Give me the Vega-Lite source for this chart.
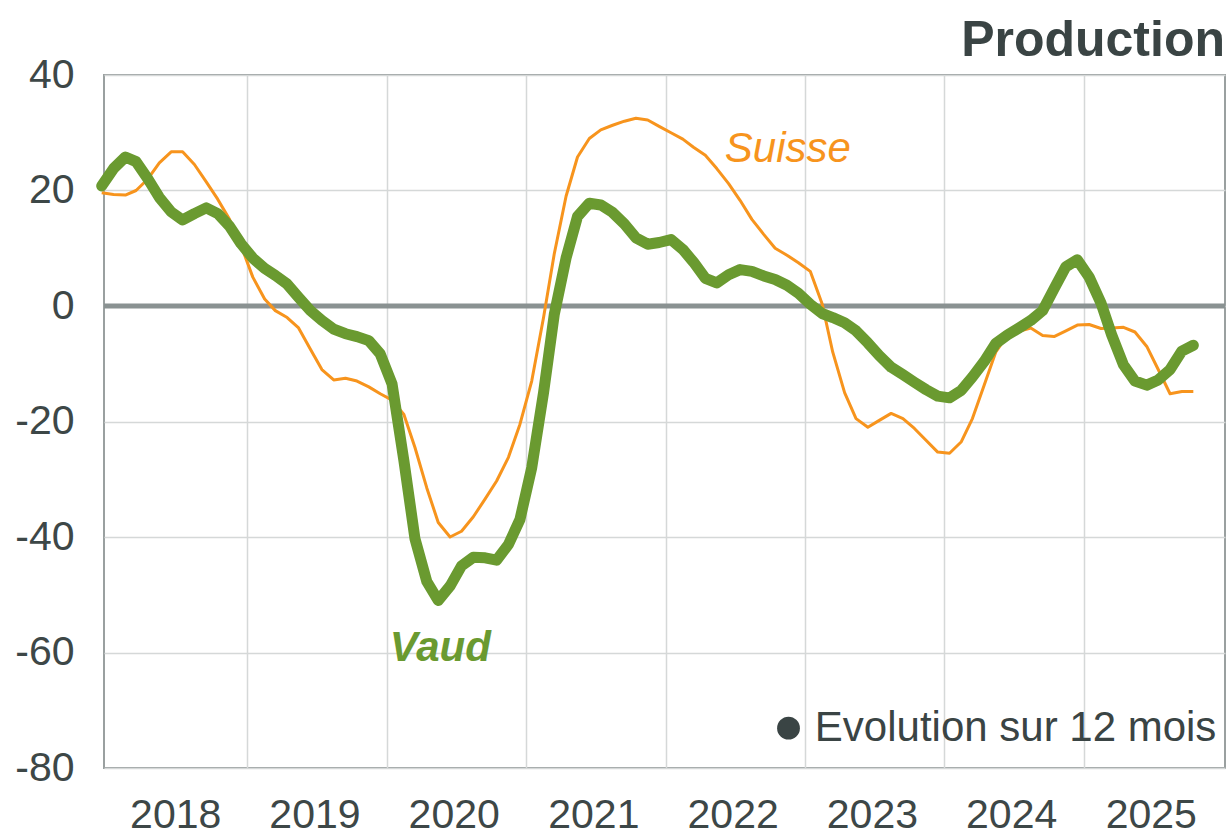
{
  "$schema": "https://vega.github.io/schema/vega-lite/v6.json",
  "autosize": "none",
  "width": 1121,
  "height": 693,
  "padding": {"left": 104, "top": 75, "right": 3, "bottom": 70},
  "background": "white",
  "title": {
    "text": "Production",
    "anchor": "end",
    "frame": "group",
    "font": "Liberation Sans",
    "fontSize": 50,
    "fontWeight": "bold",
    "color": "#3a4444",
    "offset": 0,
    "dy": 12
  },
  "config": {
    "view": {"stroke": "#9aa0a0", "strokeWidth": 2},
    "font": "Liberation Sans, Arial, sans-serif"
  },
  "datasets": {
    "prod": [
      {"date":"2017-12-15","Vaud":20.8,"Suisse":19.6},
      {"date":"2018-01-15","Vaud":23.8,"Suisse":19.3},
      {"date":"2018-02-15","Vaud":25.8,"Suisse":19.2},
      {"date":"2018-03-15","Vaud":25.0,"Suisse":20.0},
      {"date":"2018-04-15","Vaud":22.0,"Suisse":22.0},
      {"date":"2018-05-15","Vaud":18.8,"Suisse":24.8},
      {"date":"2018-06-15","Vaud":16.3,"Suisse":26.7},
      {"date":"2018-07-15","Vaud":14.9,"Suisse":26.7},
      {"date":"2018-08-15","Vaud":16.0,"Suisse":24.5},
      {"date":"2018-09-15","Vaud":17.0,"Suisse":21.5},
      {"date":"2018-10-15","Vaud":16.0,"Suisse":18.5},
      {"date":"2018-11-15","Vaud":13.8,"Suisse":15.0},
      {"date":"2018-12-15","Vaud":10.8,"Suisse":10.5},
      {"date":"2019-01-15","Vaud":8.3,"Suisse":5.0},
      {"date":"2019-02-15","Vaud":6.5,"Suisse":1.2},
      {"date":"2019-03-15","Vaud":5.3,"Suisse":-0.8},
      {"date":"2019-04-15","Vaud":3.8,"Suisse":-2.0},
      {"date":"2019-05-15","Vaud":1.5,"Suisse":-3.8},
      {"date":"2019-06-15","Vaud":-0.8,"Suisse":-7.5},
      {"date":"2019-07-15","Vaud":-2.5,"Suisse":-11.0},
      {"date":"2019-08-15","Vaud":-4.0,"Suisse":-12.8},
      {"date":"2019-09-15","Vaud":-4.8,"Suisse":-12.5},
      {"date":"2019-10-15","Vaud":-5.3,"Suisse":-13.0},
      {"date":"2019-11-15","Vaud":-6.0,"Suisse":-14.0},
      {"date":"2019-12-15","Vaud":-8.3,"Suisse":-15.2},
      {"date":"2020-01-15","Vaud":-13.5,"Suisse":-16.3},
      {"date":"2020-02-15","Vaud":-26.8,"Suisse":-18.8},
      {"date":"2020-03-15","Vaud":-40.3,"Suisse":-24.5},
      {"date":"2020-04-15","Vaud":-47.7,"Suisse":-31.5},
      {"date":"2020-05-15","Vaud":-51.0,"Suisse":-37.5},
      {"date":"2020-06-15","Vaud":-48.5,"Suisse":-40.0},
      {"date":"2020-07-15","Vaud":-45.0,"Suisse":-39.0},
      {"date":"2020-08-15","Vaud":-43.5,"Suisse":-36.5},
      {"date":"2020-09-15","Vaud":-43.6,"Suisse":-33.4},
      {"date":"2020-10-15","Vaud":-44.0,"Suisse":-30.3},
      {"date":"2020-11-15","Vaud":-41.3,"Suisse":-26.2},
      {"date":"2020-12-15","Vaud":-37.0,"Suisse":-20.5},
      {"date":"2021-01-15","Vaud":-28.0,"Suisse":-13.0},
      {"date":"2021-02-15","Vaud":-15.0,"Suisse":-2.0},
      {"date":"2021-03-15","Vaud":-1.5,"Suisse":9.0},
      {"date":"2021-04-15","Vaud":8.3,"Suisse":19.0},
      {"date":"2021-05-15","Vaud":15.5,"Suisse":25.8},
      {"date":"2021-06-15","Vaud":17.8,"Suisse":29.0},
      {"date":"2021-07-15","Vaud":17.5,"Suisse":30.5},
      {"date":"2021-08-15","Vaud":16.2,"Suisse":31.3},
      {"date":"2021-09-15","Vaud":14.2,"Suisse":32.0},
      {"date":"2021-10-15","Vaud":11.8,"Suisse":32.5},
      {"date":"2021-11-15","Vaud":10.7,"Suisse":32.2},
      {"date":"2021-12-15","Vaud":11.0,"Suisse":31.1},
      {"date":"2022-01-15","Vaud":11.5,"Suisse":30.0},
      {"date":"2022-02-15","Vaud":9.8,"Suisse":28.9},
      {"date":"2022-03-15","Vaud":7.6,"Suisse":27.5},
      {"date":"2022-04-15","Vaud":4.8,"Suisse":26.1},
      {"date":"2022-05-15","Vaud":4.0,"Suisse":23.8},
      {"date":"2022-06-15","Vaud":5.4,"Suisse":21.2},
      {"date":"2022-07-15","Vaud":6.3,"Suisse":18.3},
      {"date":"2022-08-15","Vaud":6.0,"Suisse":15.0},
      {"date":"2022-09-15","Vaud":5.2,"Suisse":12.4},
      {"date":"2022-10-15","Vaud":4.6,"Suisse":10.0},
      {"date":"2022-11-15","Vaud":3.6,"Suisse":8.8},
      {"date":"2022-12-15","Vaud":2.2,"Suisse":7.5},
      {"date":"2023-01-15","Vaud":0.3,"Suisse":6.0},
      {"date":"2023-02-15","Vaud":-1.3,"Suisse":0.4},
      {"date":"2023-03-15","Vaud":-2.0,"Suisse":-8.0},
      {"date":"2023-04-15","Vaud":-2.9,"Suisse":-15.0},
      {"date":"2023-05-15","Vaud":-4.3,"Suisse":-19.5},
      {"date":"2023-06-15","Vaud":-6.4,"Suisse":-21.0},
      {"date":"2023-07-15","Vaud":-8.6,"Suisse":-19.8},
      {"date":"2023-08-15","Vaud":-10.6,"Suisse":-18.6},
      {"date":"2023-09-15","Vaud":-11.9,"Suisse":-19.5},
      {"date":"2023-10-15","Vaud":-13.2,"Suisse":-21.2},
      {"date":"2023-11-15","Vaud":-14.5,"Suisse":-23.3},
      {"date":"2023-12-15","Vaud":-15.6,"Suisse":-25.3},
      {"date":"2024-01-15","Vaud":-15.9,"Suisse":-25.5},
      {"date":"2024-02-15","Vaud":-14.6,"Suisse":-23.5},
      {"date":"2024-03-15","Vaud":-12.3,"Suisse":-19.5},
      {"date":"2024-04-15","Vaud":-9.6,"Suisse":-13.7},
      {"date":"2024-05-15","Vaud":-6.5,"Suisse":-8.0},
      {"date":"2024-06-15","Vaud":-5.0,"Suisse":-5.0},
      {"date":"2024-07-15","Vaud":-3.8,"Suisse":-4.4},
      {"date":"2024-08-15","Vaud":-2.5,"Suisse":-3.8},
      {"date":"2024-09-15","Vaud":-0.8,"Suisse":-5.1},
      {"date":"2024-10-15","Vaud":3.0,"Suisse":-5.3},
      {"date":"2024-11-15","Vaud":6.8,"Suisse":-4.3},
      {"date":"2024-12-15","Vaud":8.0,"Suisse":-3.3},
      {"date":"2025-01-15","Vaud":5.0,"Suisse":-3.2},
      {"date":"2025-02-15","Vaud":0.5,"Suisse":-3.9},
      {"date":"2025-03-15","Vaud":-5.0,"Suisse":-3.8},
      {"date":"2025-04-15","Vaud":-10.2,"Suisse":-3.7},
      {"date":"2025-05-15","Vaud":-13.0,"Suisse":-4.5},
      {"date":"2025-06-15","Vaud":-13.7,"Suisse":-7.0},
      {"date":"2025-07-15","Vaud":-12.8,"Suisse":-11.0},
      {"date":"2025-08-15","Vaud":-11.0,"Suisse":-15.2},
      {"date":"2025-09-15","Vaud":-7.8,"Suisse":-14.8},
      {"date":"2025-10-15","Vaud":-6.8,"Suisse":-14.8}
    ]
  },
  "encoding": {
    "x": {
      "field": "date",
      "type": "temporal",
      "scale": {"domain": [{"year": 2017, "month": 12, "date": 21}, {"year": 2026, "month": 1, "date": 6}]},
      "axis": {
        "title": null,
        "values": [
          {"year": 2018, "month": 1, "date": 1},
          {"year": 2019, "month": 1, "date": 1},
          {"year": 2020, "month": 1, "date": 1},
          {"year": 2021, "month": 1, "date": 1},
          {"year": 2022, "month": 1, "date": 1},
          {"year": 2023, "month": 1, "date": 1},
          {"year": 2024, "month": 1, "date": 1},
          {"year": 2025, "month": 1, "date": 1}
        ],
        "format": "%Y",
        "labelOffset": 67,
        "labelAlign": "center",
        "labelBaseline": "middle",
        "labelPadding": 47,
        "labelFontSize": 41,
        "labelColor": "#3d4747",
        "labelFlush": false,
        "labelOverlap": false,
        "ticks": false,
        "domain": false,
        "grid": true,
        "gridColor": {"condition": {"test": "year(datum.value) === 2018", "value": "rgba(0,0,0,0)"}, "value": "#d5d8d8"},
        "gridWidth": 1.5
      }
    },
    "y": {
      "type": "quantitative",
      "scale": {"domain": [-80, 40], "nice": false},
      "axis": {
        "title": null,
        "values": [-80, -60, -40, -20, 0, 20, 40],
        "labelExpr": "datum.value < 0 ? '-' + abs(datum.value) : '' + datum.value",
        "labelFontSize": 41,
        "labelColor": "#3d4747",
        "labelPadding": 30,
        "labelFlush": false,
        "ticks": false,
        "domain": false,
        "grid": true,
        "gridColor": "#d5d8d8",
        "gridWidth": 1.5
      }
    }
  },
  "layer": [
    {
      "data": {"values": [{"zero": 0}]},
      "mark": {"type": "rule", "color": "#8a9292", "strokeWidth": 5},
      "encoding": {"x": null, "y": {"field": "zero", "type": "quantitative"}}
    },
    {
      "data": {"name": "prod"},
      "mark": {"type": "line", "color": "#f7941d", "strokeWidth": 3, "strokeJoin": "round"},
      "encoding": {"y": {"field": "Suisse", "type": "quantitative"}}
    },
    {
      "data": {"name": "prod"},
      "mark": {"type": "line", "color": "#6a9a30", "strokeWidth": 11, "strokeJoin": "round", "strokeCap": "round"},
      "encoding": {"y": {"field": "Vaud", "type": "quantitative"}}
    },
    {
      "data": {"values": [{"date": "2022-06-05", "value": 27.2, "label": "Suisse"}]},
      "mark": {"type": "text", "align": "left", "baseline": "middle", "fontSize": 42, "fontStyle": "italic", "color": "#f7941d"},
      "encoding": {"y": {"field": "value", "type": "quantitative"}, "text": {"field": "label"}}
    },
    {
      "data": {"values": [{"date": "2020-01-09", "value": -59.3, "label": "Vaud"}]},
      "mark": {"type": "text", "align": "left", "baseline": "middle", "fontSize": 42, "fontStyle": "italic", "fontWeight": "bold", "color": "#6a9a30"},
      "encoding": {"y": {"field": "value", "type": "quantitative"}, "text": {"field": "label"}}
    },
    {
      "data": {"values": [{"date": "2022-11-19", "value": -73.1}]},
      "mark": {"type": "point", "filled": true, "size": 520, "color": "#3a4444", "opacity": 1},
      "encoding": {"y": {"field": "value", "type": "quantitative"}}
    },
    {
      "data": {"values": [{"date": "2023-01-27", "value": -73.1, "label": "Evolution sur 12 mois"}]},
      "mark": {"type": "text", "align": "left", "baseline": "middle", "fontSize": 42, "color": "#3a4444"},
      "encoding": {"y": {"field": "value", "type": "quantitative"}, "text": {"field": "label"}}
    }
  ]
}
